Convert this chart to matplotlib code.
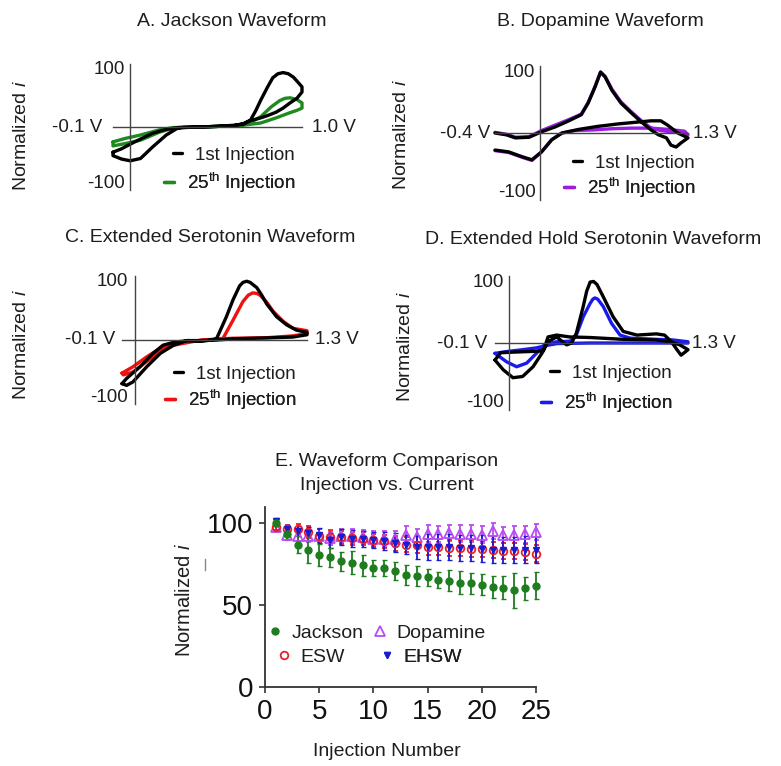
import matplotlib
matplotlib.use('Agg')
import matplotlib.pyplot as plt
from matplotlib.lines import Line2D
import numpy as np

plt.rcParams['font.family'] = ['Liberation Sans', 'DejaVu Sans']
plt.rcParams['mathtext.fontset'] = 'custom'
plt.rcParams['mathtext.rm'] = 'Liberation Sans'
plt.rcParams['mathtext.it'] = 'Liberation Sans:italic'
plt.rcParams['mathtext.bf'] = 'Liberation Sans:bold'

# ---------------- data ----------------
# Panel A: Jackson waveform (potential V, normalized current)
a1_v = [-0.10, -0.05, 0.00, 0.06, 0.13, 0.21, 0.28, 0.40, 0.50, 0.60, 0.66, 0.70, 0.73, 0.76, 0.80, 0.83, 0.86, 0.89, 0.92, 0.95, 0.98, 1.00,
        1.00, 0.97, 0.93, 0.89, 0.85, 0.80, 0.76, 0.70, 0.66, 0.60, 0.50, 0.40, 0.30, 0.27, 0.21, 0.13, 0.06, 0.00, -0.05, -0.10, -0.10]
a1_i = [-44, -38, -30, -21, -11, -4, -1, 0, 1, 2, 6, 12, 28, 47, 70, 86, 93, 95, 93, 87, 77, 70,
        61, 50, 42, 33, 26, 20, 16, 11, 5, 3, 1, 0, -1, -3, -14, -35, -55, -59, -56, -50, -44]
a25_v = [-0.10, -0.03, 0.06, 0.17, 0.25, 0.40, 0.50, 0.60, 0.66, 0.70, 0.76, 0.82, 0.87, 0.90, 0.93, 0.97, 1.00,
         1.00, 0.97, 0.93, 0.85, 0.76, 0.68, 0.60, 0.50, 0.40, 0.30, 0.24, 0.17, 0.06, -0.03, -0.10, -0.10]
a25_i = [-26, -20, -14, -5, -1, 0, 1, 2, 4, 8, 18, 35, 46, 50, 51, 48, 42,
         33, 29, 25, 16, 7, 4, 2, 1, 0, -1, -3, -9, -23, -29, -33, -26]

# Panel B: Dopamine waveform
b1_v = [-0.40, -0.30, -0.22, -0.10, 0.01, 0.13, 0.25, 0.36, 0.42, 0.48, 0.53, 0.57, 0.63, 0.71, 0.80, 0.89, 0.975, 1.04, 1.11, 1.15, 1.195, 1.24, 1.30,
        1.21, 1.12, 1.06, 0.975, 0.86, 0.69, 0.51, 0.34, 0.19, 0.10, 0.01, -0.075, -0.16, -0.28, -0.40]
b1_i = [0, -3, -8, -7, 2, 10, 20, 30, 49, 75, 100, 92, 70, 49, 33, 18, 5, -3, -8, -20, -23, -16, -8,
        0, 13, 20, 20, 18, 15, 11, 6, 0, -11, -31, -44, -39, -31, -28]
b25_v = [-0.40, -0.30, -0.22, -0.10, 0.01, 0.13, 0.25, 0.36, 0.42, 0.48, 0.53, 0.57, 0.63, 0.71, 0.80, 0.89, 0.975, 1.06, 1.15, 1.27, 1.30,
         1.27, 1.12, 0.975, 0.80, 0.63, 0.46, 0.30, 0.19, 0.10, 0.01, -0.075, -0.16, -0.28, -0.40]
b25_i = [1, -2, -7, -6, 4, 13, 22, 31, 50, 76, 100, 93, 72, 51, 35, 20, 8, 4, 2, 0, -3,
         3, 6, 8, 8, 7, 5, 4, 0, -11, -31, -45, -40, -32, -29]

# Panel C: Extended serotonin waveform
c1_v = [-0.10, -0.065, 0.036, 0.135, 0.21, 0.29, 0.40, 0.50, 0.58, 0.617, 0.69, 0.74, 0.79, 0.815, 0.844, 0.87, 0.92, 0.955, 0.995, 1.07, 1.146, 1.22, 1.30,
        1.30, 1.19, 1.05, 0.90, 0.74, 0.62, 0.50, 0.39, 0.29, 0.19, 0.087, -0.017, -0.065, -0.10]
c1_i = [-75, -66, -46, -23, -9, -4, -1, -2, 0, 3, 40, 69, 93, 99, 101, 99, 90, 78, 62, 40, 26, 17, 13,
        9, 5, 4, 3, 2, 0, -1, -1, -9, -23, -46, -72, -78, -75]
c25_v = [-0.10, -0.017, 0.087, 0.19, 0.29, 0.40, 0.50, 0.60, 0.665, 0.74, 0.815, 0.855, 0.89, 0.92, 0.945, 0.995, 1.045, 1.12, 1.195, 1.30,
         1.30, 1.19, 1.00, 0.74, 0.50, 0.29, 0.19, 0.087, -0.017, -0.09, -0.10]
c25_i = [-57, -46, -29, -14, -7, -2, -1, 0, 3, 34, 66, 77, 81, 80, 77, 65, 49, 32, 20, 16,
         11, 7, 4, 3, 0, -9, -20, -37, -55, -60, -57]

# Panel D: Extended hold serotonin waveform
d1_v = [-0.10, -0.04, 0.03, 0.10, 0.176, 0.24, 0.285, 0.347, 0.39, 0.42, 0.456, 0.49, 0.54, 0.565, 0.59, 0.615, 0.64, 0.685, 0.757, 0.83, 0.93, 1.07, 1.13, 1.18, 1.22, 1.25, 1.30,
        1.24, 1.17, 1.07, 0.83, 0.59, 0.44, 0.347, 0.285, 0.27, 0.25, 0.15, 0.03, -0.06, -0.10]
d1_i = [-28, -44, -57, -55, -39, -17, 2, 10, 2, -3, 0, 16, 60, 85, 100, 101, 96, 76, 43, 19, 13, 15, 13, 2, -11, -20, -11,
        -3, 2, 5, 6, 9, 10, 13, 10, 0, -13, -14, -15, -16, -28]
d25_v = [-0.10, -0.015, 0.057, 0.13, 0.20, 0.26, 0.347, 0.445, 0.49, 0.54, 0.59, 0.61, 0.625, 0.645, 0.685, 0.746, 0.807, 0.88, 1.07, 1.19, 1.30,
         1.30, 1.07, 0.83, 0.59, 0.35, 0.275, 0.20, 0.10, -0.015, -0.10]
d25_i = [-17, -31, -39, -33, -17, -3, 2, 3, 13, 43, 65, 72, 74, 72, 60, 32, 13, 8, 6, 5, 2,
         0, 0, 0, 0, -1, -4, -8, -11, -14, -17]

# Panel E: injection vs normalized current (mean, error)
injections = np.arange(1, 26)
jackson = [100, 93.4, 87, 83.8, 80.7, 79.2, 76.7, 76, 74.4, 72.7, 72.7, 70.6, 68.6, 67.8, 67, 65.4, 65, 63.8, 63.4, 62.6, 61.1, 60.6, 59, 60.3, 62]
jackson_err = [1.5, 3, 5, 8, 6.5, 6, 6, 7, 6.5, 5, 5, 5.5, 6, 6, 5, 5, 6.5, 7, 6.5, 6.5, 6.5, 7, 10.5, 7, 8.5]
dopamine = [97.5, 93, 92.5, 92.5, 92.5, 90.8, 92.3, 92.2, 91.7, 90.7, 90.5, 90.3, 93.1, 91.7, 93.8, 93.6, 94.2, 93.8, 93.8, 93.1, 95.4, 92.7, 93.1, 93.3, 94.8]
dopamine_err = [2, 3, 3.5, 4, 4, 4, 4, 4.5, 4.5, 4.5, 5, 5, 5, 5, 5, 5, 5, 5, 5, 5, 5, 5, 5, 5, 5]
esw = [98, 96.8, 96.8, 94.8, 92.5, 91.7, 91.5, 91, 90.7, 89.7, 89, 87.8, 87, 87, 85.5, 85.5, 85, 85, 84.6, 84.2, 83.6, 83, 83, 82.5, 81.5]
esw_err = [2, 2.5, 3, 3.5, 4, 4, 4, 4, 4, 4, 4, 4.5, 4.5, 5, 5, 5, 5, 5, 5, 5, 5, 5, 5, 5, 5]
ehsw = [101.5, 96.8, 95.4, 94, 92.7, 89.7, 91.7, 90.7, 90.5, 89.7, 89, 88.3, 87, 85.5, 85.8, 85.5, 85.5, 85, 85, 84.6, 84, 83.7, 83.7, 84, 83.7]
ehsw_err = [1.5, 2, 3, 4, 4.5, 4.5, 5, 5, 5, 5, 5.5, 6, 6, 7, 8, 8, 8, 8, 8, 8, 8, 8, 8, 8, 8]

series_names = ['Jackson', 'Dopamine', 'ESW', 'EHSW']
legend_labels = ['1st Injection', '25$^{\\mathrm{th}}$ Injection']

# ---------------- figure ----------------
W, H = 781, 766
fig = plt.figure(figsize=(W / 100, H / 100), dpi=100)
TXT = '#1e1e1e'
AX = '#444444'
FS = 13.5


def fx(x):
    return x / W


def fy(y):
    return 1 - y / H


def cv_panel(rect, vlim, c25, first, col25, labels, gaps, title, title_xy, ylab_xy, leg):
    ax = fig.add_axes(rect)
    ax.patch.set_alpha(0)
    ax.set_xlim(*vlim)
    ax.set_ylim(-110, 110)
    for s in ['top', 'right']:
        ax.spines[s].set_visible(False)
    ax.spines['left'].set_position(('data', 0))
    ax.spines['bottom'].set_position(('data', 0))
    for s in ['left', 'bottom']:
        ax.spines[s].set_color(AX)
        ax.spines[s].set_linewidth(1.0)
    ax.set_xticks([])
    ax.set_yticks([])
    l2, = ax.plot(c25[0], c25[1], color=col25, lw=2.4, solid_joinstyle='round',
                  solid_capstyle='round', clip_on=False)
    l1, = ax.plot(first[0], first[1], color='black', lw=2.4, solid_joinstyle='round',
                  solid_capstyle='round', clip_on=False)
    g_top, g_left, g_right = gaps
    ax.annotate(labels[0], xy=(0, 100), xytext=(-g_top, 0), textcoords='offset pixels',
                ha='right', va='center', fontsize=FS, color=TXT)
    ax.annotate(labels[1], xy=(0, -98), xytext=(-g_top, 0), textcoords='offset pixels',
                ha='right', va='center', fontsize=FS, color=TXT)
    ax.annotate(labels[2], xy=(vlim[0], 0), xytext=(-g_left, 0), textcoords='offset pixels',
                ha='right', va='center', fontsize=FS, color=TXT)
    ax.annotate(labels[3], xy=(vlim[1], 0), xytext=(g_right, 0), textcoords='offset pixels',
                ha='left', va='center', fontsize=FS, color=TXT)
    fig.text(fx(title_xy[0]), fy(title_xy[1]), title, ha='center', va='center', fontsize=14, color=TXT)
    fig.text(fx(ylab_xy[0]), fy(ylab_xy[1]), 'Normalized $\\mathit{i}$', rotation=90,
             ha='center', va='center', fontsize=14, color=TXT)
    xr, y1, y2 = leg
    for h, lab, yy in [(l1, legend_labels[0], y1), (l2, legend_labels[1], y2)]:
        lg = ax.legend([h], [lab], loc='center right', bbox_to_anchor=(fx(xr), fy(yy)),
                       bbox_transform=fig.transFigure, frameon=False, handlelength=0.5,
                       handletextpad=0.7, borderpad=0, borderaxespad=0, fontsize=FS,
                       labelcolor=TXT)
        ax.add_artist(lg)
    return ax


cv_panel([fx(113), fy(190), 189 / W, 126 / H], (-0.1, 1.0), (a25_v, a25_i), (a1_v, a1_i), '#1f8a1f',
         ['100', '-100', '-0.1 V', '1.0 V'], (5, 11, 10), 'A. Jackson Waveform', (232, 21), (22, 136),
         (295, 155, 183))
cv_panel([fx(495), fy(200), 193 / W, 134 / H], (-0.4, 1.3), (b25_v, b25_i), (b1_v, b1_i), '#9a1ee0',
         ['100', '-100', '-0.4 V', '1.3 V'], (5, 5, 5), 'B. Dopamine Waveform', (600, 21), (401, 135),
         (695, 163, 188))
cv_panel([fx(122), fy(404), 185 / W, 128 / H], (-0.1, 1.3), (c25_v, c25_i), (c1_v, c1_i), '#f01010',
         ['100', '-100', '-0.1 V', '1.3 V'], (7, 7, 8), 'C. Extended Serotonin Waveform', (210, 238), (22, 345),
         (296, 374, 400))
cv_panel([fx(495), fy(410), 193 / W, 134 / H], (-0.1, 1.3), (d25_v, d25_i), (d1_v, d1_i), '#1a1aee',
         ['100', '-100', '-0.1 V', '1.3 V'], (5, 8, 4), 'D. Extended Hold Serotonin Waveform', (593, 239), (405, 347),
         (672, 373, 403))

# ---------------- panel E ----------------
axE = fig.add_axes([fx(265), fy(687), 271 / W, 180 / H])
axE.patch.set_alpha(0)
axE.set_xlim(0, 25)
axE.set_ylim(0, 110)
for s in ['top', 'right']:
    axE.spines[s].set_visible(False)
for s in ['left', 'bottom']:
    axE.spines[s].set_color('#333333')
    axE.spines[s].set_linewidth(1.3)
axE.set_xticks([0, 5, 10, 15, 20, 25])
axE.set_yticks([0, 50, 100])
axE.tick_params(direction='out', length=4.5, width=1.2, colors='#333333', labelsize=20,
                labelcolor='#111111', pad=4)

styles = {
    'Dopamine': dict(color='#b84cf2', marker='^', ms=6.5, mfc='none', mew=1.3),
    'ESW': dict(color='#e8202a', marker='o', ms=5.5, mfc='none', mew=1.3),
    'EHSW': dict(color='#1a1ad0', marker='v', ms=4.5, mfc='#1a1ad0', mew=1.0),
    'Jackson': dict(color='#1e7d1e', marker='o', ms=5, mfc='#1e7d1e', mew=1.0),
}
vals = {'Jackson': (jackson, jackson_err), 'Dopamine': (dopamine, dopamine_err),
        'ESW': (esw, esw_err), 'EHSW': (ehsw, ehsw_err)}
handles = {}
for name in ['Dopamine', 'ESW', 'EHSW', 'Jackson']:
    st = styles[name]
    m, e = vals[name]
    eb = axE.errorbar(injections, m, yerr=e, fmt=st['marker'], color=st['color'], ms=st['ms'],
                      mfc=st['mfc'], mec=st['color'], mew=st['mew'], elinewidth=1.3, capsize=1.8,
                      capthick=1.3, clip_on=False)
    for art in eb.lines[1] + eb.lines[2]:
        art.set_clip_on(False)
    eb.lines[0].set_clip_on(False)
    handles[name] = eb.lines[0]

leg_pos = {'Jackson': (270, 633), 'Dopamine': (375, 633), 'ESW': (279, 657), 'EHSW': (382, 657)}
for name in series_names:
    x0, y0 = leg_pos[name]
    lg = axE.legend([handles[name]], [name], loc='center left', bbox_to_anchor=(fx(x0), fy(y0)),
                    bbox_transform=fig.transFigure, frameon=False, handlelength=0.5, numpoints=1,
                    handletextpad=0.6, borderpad=0, borderaxespad=0, fontsize=14, labelcolor=TXT)
    axE.add_artist(lg)

fig.text(fx(387), fy(462), 'E. Waveform Comparison', ha='center', va='center', fontsize=14, color=TXT)
fig.text(fx(387), fy(485), 'Injection vs. Current', ha='center', va='center', fontsize=14, color=TXT)
fig.text(fx(387), fy(752), 'Injection Number', ha='center', va='center', fontsize=14, color=TXT)
fig.text(fx(185), fy(600), 'Normalized $\\mathit{i}$', rotation=90, ha='center', va='center',
         fontsize=14.5, color=TXT)
fig.add_artist(Line2D([fx(205), fx(205)], [fy(559), fy(570)], color='#888888', lw=1.0))

fig.savefig('out.png', dpi=100)
